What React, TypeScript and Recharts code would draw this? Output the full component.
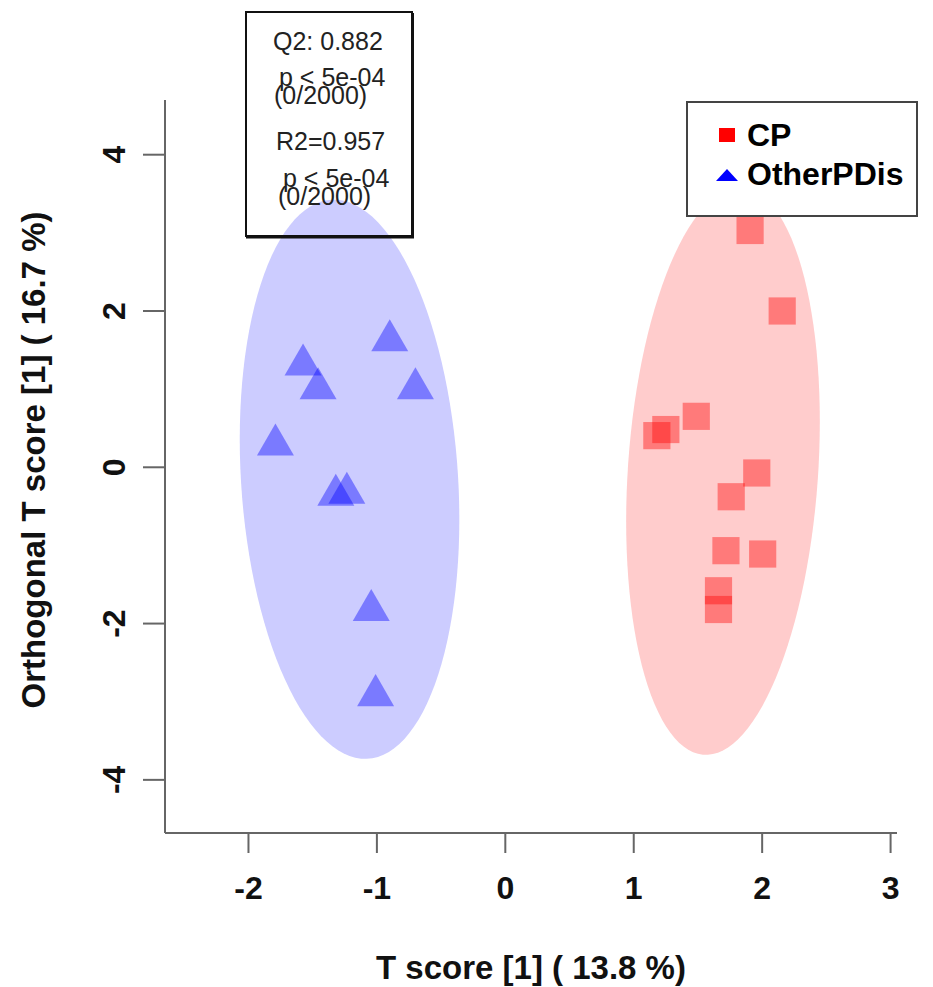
import { ScatterChart, Scatter, XAxis, YAxis, Legend, Symbols } from 'recharts';

// OPLS scores, predictive component (x) vs first orthogonal component (y)
const cpScoreT = [1.906, 2.156, 1.487, 1.25, 1.18, 1.958, 1.759, 1.718, 2.004, 1.66, 1.66];
const cpScoreO = [3.03, 2.0, 0.652, 0.483, 0.405, -0.073, -0.377, -1.067, -1.11, -1.58, -1.82];
const otherScoreT = [-0.9, -1.575, -1.458, -0.7, -1.79, -1.32, -1.234, -1.044, -1.01];
const otherScoreO = [1.62, 1.31, 1.006, 1.006, 0.286, -0.355, -0.33, -1.83, -2.92];

// group confidence ellipses: centre, spread on each score and their correlation
const cpEllipse = { cx: 1.695, cy: -0.051, sx: 0.754, sy: 3.629, rho: 0.176 };
const otherEllipse = { cx: -1.213, cy: -0.153, sx: 0.855, sy: 3.578, rho: -0.143 };

const xTicks = [-2, -1, 0, 1, 2, 3];
const yTicks = [-4, -2, 0, 2, 4];

const statsLines = ['Q2: 0.882', 'p < 5e-04', '(0/2000)', 'R2=0.957', 'p < 5e-04', '(0/2000)'];

const FONT = '"Liberation Sans", Arial, Helvetica, sans-serif';

const toPoints = (xs: number[], ys: number[]) => xs.map((x, i) => ({ x, y: ys[i] }));

const ellipseOutline = (e: { cx: number; cy: number; sx: number; sy: number; rho: number }) => {
  const n = 120;
  const k = Math.sqrt(1 - e.rho * e.rho);
  const pts = [];
  for (let i = 0; i < n; i++) {
    const t = (i / n) * Math.PI * 2;
    pts.push({
      x: e.cx + e.sx * Math.cos(t),
      y: e.cy + e.sy * (e.rho * Math.cos(t) + k * Math.sin(t)),
    });
  }
  return pts;
};

const filledOutline = (color: string) => (props: any) => {
  const pts: { x: number; y: number }[] = props.points || [];
  if (!pts.length) return <g />;
  const d = 'M' + pts.map(p => `${p.x},${p.y}`).join('L') + 'Z';
  return <path d={d} fill={color} stroke="none" />;
};

const noMarker = () => <g />;

const marker = (type: 'square' | 'triangle', size: number, color: string) => (props: any) => (
  <Symbols cx={props.cx} cy={props.cy} type={type} size={size} fill={color} fillOpacity={0.4} />
);

const XTick = ({ x, y, payload }: any) => (
  <text x={x} y={y + 44} textAnchor="middle" fontFamily={FONT} fontSize={32} fontWeight="bold" fill="#111">
    {payload.value}
  </text>
);

const YTick = ({ x, y, payload }: any) => {
  const px = x - 16;
  return (
    <text
      x={px}
      y={y}
      transform={`rotate(-90, ${px}, ${y})`}
      textAnchor="middle"
      fontFamily={FONT}
      fontSize={32}
      fontWeight="bold"
      fill="#111"
    >
      {payload.value}
    </text>
  );
};

const LegendBox = ({ payload }: any) => {
  const items = (payload || []).filter((p: any) => p.type !== 'none');
  return (
    <div
      style={{
        width: 232,
        height: 116,
        boxSizing: 'border-box',
        border: '2px solid #444',
        background: '#fff',
        position: 'relative',
        fontFamily: FONT,
      }}
    >
      {items.map((item: any, i: number) => (
        <div
          key={item.value}
          style={{ position: 'absolute', left: 26, top: 14 + i * 39, height: 36, display: 'flex', alignItems: 'center' }}
        >
          <svg width={26} height={20} style={{ display: 'block' }}>
            {item.type === 'triangle' ? (
              <polygon points="2,17 24,17 13,5" fill={item.color} />
            ) : (
              <rect x={5} y={3} width={16} height={14} fill={item.color} />
            )}
          </svg>
          <span style={{ fontSize: 32, fontWeight: 'bold', color: '#000', marginLeft: 7, lineHeight: '36px' }}>
            {item.value}
          </span>
        </div>
      ))}
    </div>
  );
};

const App = () => {
  const cpData = toPoints(cpScoreT, cpScoreO);
  const otherData = toPoints(otherScoreT, otherScoreO);

  return (
    <div style={{ position: 'relative', width: 933, height: 987, background: '#fff' }}>
      <style>{'body{margin:0}'}</style>
      <ScatterChart width={933} height={987} margin={{ top: 100, right: 36, bottom: 0, left: 0 }}>
        <XAxis
          type="number"
          dataKey="x"
          domain={[-2.65, 3.05]}
          ticks={xTicks}
          allowDataOverflow
          height={154}
          tickSize={20}
          tick={<XTick />}
          axisLine={{ stroke: '#666', strokeWidth: 2 }}
          tickLine={{ stroke: '#666', strokeWidth: 2 }}
        />
        <YAxis
          type="number"
          dataKey="y"
          domain={[-4.68, 4.7]}
          ticks={yTicks}
          allowDataOverflow
          width={165}
          tickSize={22}
          tick={<YTick />}
          axisLine={{ stroke: '#666', strokeWidth: 2 }}
          tickLine={{ stroke: '#666', strokeWidth: 2 }}
        />
        <Scatter
          data={ellipseOutline(otherEllipse)}
          line={filledOutline('#ccccff')}
          shape={noMarker}
          legendType="none"
          isAnimationActive={false}
        />
        <Scatter
          data={ellipseOutline(cpEllipse)}
          line={filledOutline('#ffcccc')}
          shape={noMarker}
          legendType="none"
          isAnimationActive={false}
        />
        <Scatter
          name="CP"
          data={cpData}
          fill="#ff0000"
          shape={marker('square', 740, '#ff0000')}
          legendType="square"
          isAnimationActive={false}
        />
        <Scatter
          name="OtherPDis"
          data={otherData}
          fill="#0000ff"
          shape={marker('triangle', 592, '#0000ff')}
          legendType="triangle"
          isAnimationActive={false}
        />
        <Legend
          layout="horizontal"
          verticalAlign="middle"
          align="center"
          content={<LegendBox />}
          wrapperStyle={{ left: 686, top: 101, width: 232, height: 116 }}
        />
        <text x={531} y={979} textAnchor="middle" fontFamily={FONT} fontSize={33} fontWeight="bold" fill="#111">
          T score [1] ( 13.8 %)
        </text>
      </ScatterChart>

      {/* y title and model statistics box */}
      <svg width={933} height={987} style={{ position: 'absolute', left: 0, top: 0, pointerEvents: 'none' }}>
        <text
          x={45}
          y={460}
          transform="rotate(-90, 45, 460)"
          textAnchor="middle"
          fontFamily={FONT}
          fontSize={33}
          fontWeight="bold"
          fill="#111"
        >
          Orthogonal T score [1] ( 16.7 %)
        </text>
        <rect x={246} y={12} width={166} height={224} fill="none" stroke="#111" strokeWidth={2} />
        <line x1={246} y1={237} x2={414} y2={237} stroke="#111" strokeWidth={3} />
        <line x1={413} y1={13} x2={413} y2={238} stroke="#111" strokeWidth={2} />
        {statsLines.map((s, i) => (
          <text
            key={i}
            x={[273, 279, 274, 276, 283, 278][i]}
            y={[50, 86, 104, 150, 187, 205][i]}
            fontFamily={FONT}
            fontSize={25}
            fill="#222"
          >
            {s}
          </text>
        ))}
      </svg>
    </div>
  );
};

export default App;
